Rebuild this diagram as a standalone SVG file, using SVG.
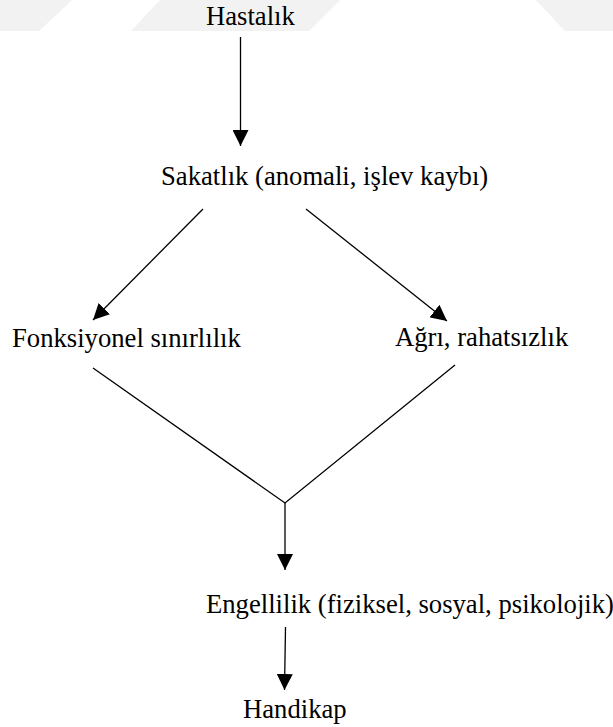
<svg xmlns="http://www.w3.org/2000/svg" width="613" height="727" viewBox="0 0 613 727">
<style>
.t{font-family:"Liberation Serif","Times New Roman",serif;font-size:26.67px;fill:#000}
.c{stroke:#000;stroke-width:1.3;fill:none}
.wm{fill:#f2f2f2}
</style>
<defs>
<marker id="ah" viewBox="0 0 16 16" refX="16" refY="8" markerWidth="16" markerHeight="16" markerUnits="userSpaceOnUse" orient="auto">
<path d="M0,0 L16,8 L0,16 Z" fill="#000"/>
</marker>
</defs>
<rect width="613" height="727" fill="#fff"/>
<g id="watermark">
<polygon class="wm" points="0,0 72,0 39,31 0,31"/>
<polygon class="wm" points="160,0 340,0 309,31 131,31"/>
<polygon class="wm" points="536,0 613,0 613,31 565,31"/>
</g>
<g id="connectors">
<line class="c" x1="240.5" y1="37" x2="240.5" y2="146" marker-end="url(#ah)"/>
<line class="c" x1="203" y1="209" x2="93" y2="320" marker-end="url(#ah)"/>
<line class="c" x1="306" y1="209" x2="447" y2="321" marker-end="url(#ah)"/>
<polyline class="c" points="93,368 285,503 455,365"/>
<line class="c" x1="285" y1="503" x2="285" y2="570" marker-end="url(#ah)"/>
<line class="c" x1="285.5" y1="627" x2="284.5" y2="690" marker-end="url(#ah)"/>
</g>
<g id="n-hastalik"><text class="t" x="206" y="25">Hastalık</text></g>
<g id="n-sakatlik"><text class="t" x="161" y="185">Sakatlık (anomali, işlev kaybı)</text></g>
<g id="n-fonksiyonel"><text class="t" x="12" y="347">Fonksiyonel sınırlılık</text></g>
<g id="n-agri"><text class="t" x="395" y="346">Ağrı, rahatsızlık</text></g>
<g id="n-engellilik"><text class="t" x="206" y="613">Engellilik (fiziksel, sosyal, psikolojik)</text></g>
<g id="n-handikap"><text class="t" x="243" y="718">Handikap</text></g>
</svg>
